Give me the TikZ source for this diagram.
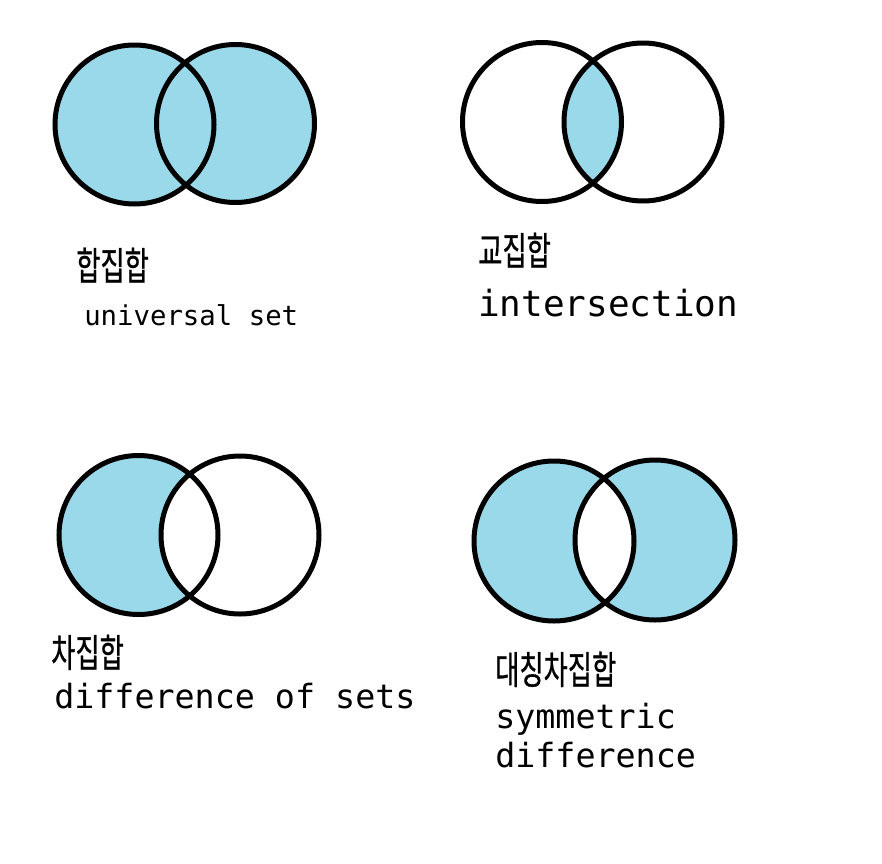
\documentclass[tikz,border=0pt]{standalone}
\usepackage{fontspec}
\setmonofont{DejaVu Sans Mono}
\newfontfamily\kofont[FakeBold=0.8]{Noto Sans CJK KR}
\definecolor{venn}{RGB}{153,217,234}
\newcommand{\kotext}[1]{\scalebox{0.68}[1]{\kofont\fontsize{29pt}{32pt}\selectfont #1}}
\begin{document}
\begin{tikzpicture}[x=0.75pt,y=-0.75pt,
  ring/.style={draw=black,line width=3.75pt},
  ko/.style={anchor=base west,inner sep=0pt},
  en/.style={anchor=base west,inner sep=0pt,align=left},
]
\useasboundingbox (0,0) rectangle (882,864);
\fill[white] (0,0) rectangle (882,864);
% top-left: union
\fill[venn] (134.5,124.5) circle (79.5) (235.5,123.5) circle (79);
\draw[ring] (134.5,124.5) circle (79.5) (235.5,123.5) circle (79);
% top-right: intersection
\begin{scope}
  \clip (542,122) circle (79.5);
  \fill[venn] (643,122) circle (79);
\end{scope}
\draw[ring] (542,122) circle (79.5) (643,122) circle (79);
% bottom-left: difference
\fill[venn] (138.5,535) circle (79.5);
\begin{scope}
  \clip (240,535) circle (79);
  \fill[white] (138.5,535) circle (79.5);
\end{scope}
\draw[ring] (138.5,535) circle (79.5) (240,535) circle (79);
% bottom-right: symmetric difference
\fill[venn,even odd rule] (554,541) circle (80) (655,540) circle (80);
\draw[ring] (554,541) circle (80) (655,540) circle (80);
% labels
\node[ko] (k1) at (76,280) {\kotext{합집합}};
\node[en,font=\ttfamily\fontsize{20.5pt}{24pt}\selectfont] (e1) at (84,325) {universal set};
\node[ko] (k2) at (478,265) {\kotext{교집합}};
\node[en,font=\ttfamily\fontsize{27pt}{30pt}\selectfont] (e2) at (478,316) {intersection};
\node[ko] (k3) at (51,667) {\kotext{차집합}};
\node[en,font=\ttfamily\fontsize{25pt}{30pt}\selectfont] (e3) at (54,708) {difference of sets};
\node[ko] (k4) at (495,684) {\kotext{대칭차집합}};
\node[en,font=\ttfamily\fontsize{25pt}{30pt}\selectfont] (e4) at (495,728) {symmetric};
\node[en,font=\ttfamily\fontsize{25pt}{30pt}\selectfont] (e5) at (495,767) {difference};
\end{tikzpicture}
\end{document}
